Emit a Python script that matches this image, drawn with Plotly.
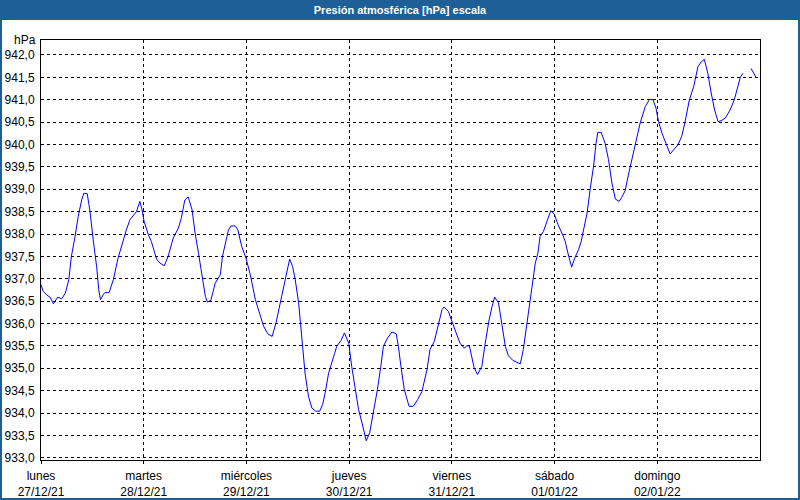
import plotly.graph_objects as go

# hours since lunes 27/12/21 00:00
hours = [0.0, 0.5, 1.3, 2.1, 2.9, 3.9, 4.8, 5.7, 6.5, 7.1, 7.9, 8.7, 9.5, 10.0, 10.8, 11.4,
         12.2, 13.0, 13.5, 13.9, 14.5, 14.9, 15.9, 16.9, 18.0, 19.2, 20.0, 20.8, 21.8, 22.3,
         23.1, 23.6, 24.1, 25.1, 25.8, 27.0, 27.8, 28.8, 29.7, 30.9, 32.1, 32.8, 33.6, 34.4,
         35.3, 36.0, 36.8, 37.6, 38.4, 38.9, 39.7, 40.7, 41.9, 42.4, 43.2, 43.8, 44.4, 45.4,
         46.0, 46.9, 47.9, 48.9, 50.1, 51.0, 52.0, 53.0, 54.0, 54.9, 55.9, 56.9, 57.7, 58.1,
         58.8, 59.4, 60.2, 61.0, 61.7, 62.5, 63.3, 64.2, 65.1, 65.8, 66.4, 67.2, 68.0, 68.6,
         69.1, 70.1, 70.9, 71.9, 72.6, 73.4, 74.2, 75.0, 75.5, 76.0, 76.8, 77.7, 78.6, 79.4,
         80.0, 81.0, 82.0, 83.0, 83.5, 84.2, 84.9, 86.0, 87.0, 88.0, 89.0, 90.2, 90.9, 91.9,
         92.9, 93.7, 94.2, 95.2, 96.0, 97.0, 97.9, 98.9, 99.5, 100.1, 100.7, 101.2, 102.0,
         103.0, 103.8, 104.7, 105.4, 106.0, 106.9, 107.7, 108.5, 109.2, 110.2, 111.2, 112.0,
         112.7, 113.5, 114.3, 114.8, 115.5, 116.1, 116.6, 117.4, 118.2, 119.1, 119.9, 120.8,
         121.9, 122.5, 123.3, 124.0, 124.7, 125.6, 126.2, 126.8, 127.6, 128.3, 129.1, 129.7,
         130.1, 130.9, 131.8, 132.6, 133.4, 134.2, 135.1, 135.7, 136.5, 137.2, 138.1, 138.8,
         140.0, 141.2, 142.2, 143.0, 143.7, 144.3, 145.1, 146.0, 147.0, 147.8, 148.8, 149.7,
         150.5, 151.5, 152.5, 153.5, 154.3, 155.0, 155.8, 156.6, 157.4, 158.2, 158.9, 159.9,
         161.0, 162.0, 162.8, 163.4, 164.0, 165.0, 165.9, 166.5, 167.1]

pressure = [936.87, 936.72, 936.64, 936.59, 936.44, 936.59, 936.55, 936.68, 936.98, 937.50,
            937.91, 938.39, 938.76, 938.91, 938.90, 938.54, 937.87, 937.27, 936.75, 936.53,
            936.64, 936.69, 936.69, 936.98, 937.46, 937.87, 938.11, 938.32, 938.43, 938.50,
            938.73, 938.54, 938.28, 937.98, 937.83, 937.44, 937.35, 937.29, 937.50, 937.91,
            938.13, 938.36, 938.76, 938.83, 938.54, 938.02, 937.57, 937.05, 936.61, 936.48,
            936.52, 936.90, 937.09, 937.50, 937.83, 938.09, 938.18, 938.18, 938.09, 937.72,
            937.46, 937.09, 936.53, 936.23, 935.94, 935.77, 935.71, 936.01, 936.46, 936.90,
            937.27, 937.44, 937.27, 936.98, 936.46, 935.56, 934.89, 934.37, 934.11, 934.04,
            934.04, 934.19, 934.45, 934.89, 935.12, 935.33, 935.49, 935.62, 935.79, 935.56,
            935.04, 934.52, 934.08, 933.78, 933.56, 933.38, 933.56, 934.00, 934.52, 935.04,
            935.49, 935.68, 935.81, 935.77, 935.49, 934.97, 934.52, 934.15, 934.15, 934.30,
            934.48, 934.97, 935.42, 935.60, 936.01, 936.31, 936.37, 936.27, 936.05, 935.79,
            935.56, 935.45, 935.50, 935.50, 935.27, 935.01, 934.86, 935.04, 935.56, 936.08,
            936.38, 936.59, 936.46, 935.94, 935.49, 935.28, 935.18, 935.13, 935.10, 935.42,
            935.94, 936.46, 936.90, 937.35, 937.57, 937.94, 938.06, 938.28, 938.52, 938.45,
            938.21, 937.98, 937.83, 937.50, 937.26, 937.46, 937.65, 937.83, 938.13, 938.47,
            938.99, 939.51, 940.03, 940.27, 940.27, 940.03, 939.66, 939.14, 938.78, 938.73,
            938.82, 938.97, 939.30, 939.69, 939.99, 940.48, 940.85, 941.01, 941.00, 940.81,
            940.51, 940.25, 940.03, 939.79, 939.88, 939.99, 940.18, 940.51, 941.00, 941.29,
            941.74, 941.85, 941.90, 941.59, 941.15, 940.77, 940.51, 940.53, 940.59, 940.77,
            941.00, 941.29, 941.50, 941.59, None, 941.70, 941.61, 941.50]

day_ticks = [0, 24, 48, 72, 96, 120, 144]
day_labels = ["lunes<br>27/12/21", "martes<br>28/12/21", "miércoles<br>29/12/21",
              "jueves<br>30/12/21", "viernes<br>31/12/21", "sábado<br>01/01/22",
              "domingo<br>02/01/22"]
y_ticks = [933.0 + 0.5 * i for i in range(19)]

title_text = "Presión atmosférica [hPa] escala"
unit_text = "hPa"

W, H = 800, 500
ML, MR, MT, MB = 41, 40, 40, 40
PW, PH = W - ML - MR, H - MT - MB
BLUE = "#1d5f96"
FONT = "Liberation Sans"

fig = go.Figure()
fig.add_trace(go.Scatter(x=hours, y=pressure, mode="lines",
                         line=dict(color="#0000ff", width=1),
                         connectgaps=False, hoverinfo="skip"))

def px_x(p):
    return (p - ML) / PW

def px_y(p):
    return (H - MB - p) / PH

fig.update_layout(
    width=W, height=H,
    margin=dict(l=ML, r=MR, t=MT, b=MB, autoexpand=False),
    paper_bgcolor="white", plot_bgcolor="white",
    showlegend=False,
    separators=",.",
    font=dict(family=FONT, size=12, color="black"),
    title=dict(text="<b>" + title_text + "</b>", x=0.5, xanchor="center",
               y=1 - 10 / H, yanchor="middle", yref="container",
               font=dict(family=FONT, size=11, color="white")),
    xaxis=dict(range=[0, 168], tickmode="array", tickvals=day_ticks, ticktext=day_labels,
               showgrid=True, gridcolor="black", griddash="3px,3px", gridwidth=1,
               showline=True, linecolor="black", linewidth=1, mirror=True,
               ticks="outside", ticklen=3, tickcolor="black", zeroline=False,
               automargin=False, ticklabelstandoff=2,
               tickfont=dict(family=FONT, size=12)),
    yaxis=dict(range=[932.95, 942.335], tickmode="array", tickvals=y_ticks,
               tickformat=".1f",
               showgrid=True, gridcolor="black", griddash="3px,3px", gridwidth=1,
               showline=True, linecolor="black", linewidth=1, mirror=True,
               ticks="", ticklabelstandoff=3, zeroline=False, automargin=False,
               tickfont=dict(family=FONT, size=12)),
    shapes=[
        dict(type="rect", xref="paper", yref="paper",
             x0=px_x(0), x1=px_x(W), y0=px_y(20), y1=px_y(0),
             fillcolor=BLUE, line=dict(width=0), layer="below"),
        dict(type="rect", xref="paper", yref="paper",
             x0=px_x(1), x1=px_x(W - 1), y0=px_y(H - 1), y1=px_y(1),
             fillcolor="rgba(0,0,0,0)", line=dict(color=BLUE, width=2)),
    ],
    annotations=[
        dict(text=unit_text, xref="paper", yref="paper", x=0, y=px_y(49),
             xanchor="right", yanchor="bottom", xshift=-3, showarrow=False,
             font=dict(family=FONT, size=12, color="black")),
    ],
)

fig.write_html("out.html", config={"displayModeBar": False})
